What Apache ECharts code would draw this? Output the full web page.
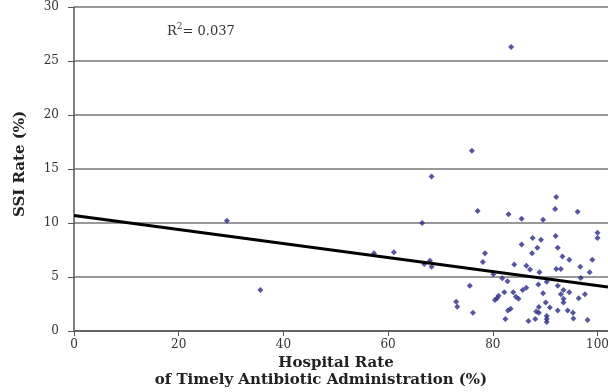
<!DOCTYPE html>
<html><head><meta charset="utf-8">
<script src="https://cdn.jsdelivr.net/npm/echarts@6/dist/echarts.min.js"></script>
<style>html,body{margin:0;padding:0;background:#fff}#c{width:608px;height:392px}</style>
</head><body><div id="c"></div>
<script>
const xTicks = [0, 20, 40, 60, 80, 100];
const yTicks = [0, 5, 10, 15, 20, 25, 30];
const xTitleLines = ['Hospital Rate', 'of Timely Antibiotic Administration (%)'];
const yTitle = 'SSI Rate (%)';
const hospitalRate = [29.2,35.6,57.3,61.1,66.5,66.9,68.0,68.3,68.3,76.0,83.5,
92.1,91.9,77.1,96.2,83.0,85.5,89.6,
100.0,100.0,87.6,89.2,92.0,85.5,88.5,92.4,78.5,87.5,93.3,94.6,99.0,78.1,84.1,86.4,87.1,88.9,92.1,93.0,96.7,98.5,80.1,81.8,96.8,
82.8,90.3,88.7,92.4,75.6,86.4,85.7,93.5,82.2,83.9,89.6,93.0,94.6,97.6,81.1,80.8,80.4,84.4,84.9,93.5,96.4,93.5,90.1,73.0,73.2,88.8,90.9,83.4,82.9,92.4,94.3,88.3,88.8,95.3,76.2,90.3,90.3,90.3,82.4,86.8,88.1,95.4,98.1];
const ssiRate = [10.2,3.8,7.2,7.3,10.0,6.2,6.5,5.95,14.3,16.7,26.3,
12.4,11.3,11.1,11.05,10.8,10.4,10.3,
9.1,8.6,8.6,8.45,8.8,8.0,7.7,7.7,7.2,7.2,6.9,6.6,6.6,6.4,6.15,6.05,5.7,5.45,5.75,5.75,5.95,5.45,5.25,4.88,4.9,
4.6,4.55,4.3,4.2,4.2,4.0,3.8,3.8,3.58,3.58,3.5,3.4,3.58,3.4,3.27,3.03,2.87,3.18,2.98,2.98,3.03,2.64,2.64,2.7,2.25,2.22,2.18,2.07,1.9,1.9,1.9,1.8,1.68,1.68,1.7,1.4,1.12,0.83,1.1,0.93,1.1,1.15,1.02];
const fitIntercept = 10.7;
const fitSlope = -0.065;
const fitX = [0, 102];

const points = hospitalRate.map((x, i) => [x, ssiRate[i]]);
const fitLine = fitX.map(x => [x, fitIntercept + fitSlope * x]);
const serif = '"DejaVu Serif", "Liberation Serif", serif';
const titleStyle = { fontFamily: serif, fontWeight: 'bold', fontSize: 15, fill: '#222', align: 'center', verticalAlign: 'middle' };

const chart = echarts.init(document.getElementById('c'));
chart.setOption({
  backgroundColor: '#fff',
  animation: false,
  grid: { left: 74, right: 0, top: 7, bottom: 61, containLabel: false, outerBoundsMode: 'none' },
  xAxis: {
    type: 'value', min: 0, max: 102,
    axisLine: { show: true, lineStyle: { color: '#555', width: 1.5 } },
    axisTick: { show: true, length: 5, lineStyle: { color: '#555' }, customValues: xTicks },
    axisLabel: { fontFamily: serif, fontSize: 12, color: '#333', margin: 8, customValues: xTicks },
    splitLine: { show: false }
  },
  yAxis: {
    type: 'value', min: 0, max: 30, interval: 5,
    axisLine: { show: true, lineStyle: { color: '#555', width: 1.5 } },
    axisTick: { show: true, length: 6, lineStyle: { color: '#555' } },
    axisLabel: { fontFamily: serif, fontSize: 12, color: '#333', margin: 15, customValues: yTicks },
    splitLine: { show: true, lineStyle: { color: '#777', width: 1.5 } }
  },
  graphic: [{
    type: 'text', x: 336, y: 363,
    style: Object.assign({ text: xTitleLines[0] }, titleStyle)
  }, {
    type: 'text', x: 321, y: 380,
    style: Object.assign({ text: xTitleLines[1] }, titleStyle)
  }, {
    type: 'text', x: 20, y: 164, rotation: Math.PI / 2,
    style: Object.assign({ text: yTitle }, titleStyle)
  }, {
    type: 'text', left: 167, top: 22,
    style: {
      text: '{r|R}{s|2}{r|= 0.037}',
      rich: {
        r: { fontFamily: serif, fontSize: 13, fill: '#333', padding: [3, 0, 0, 0] },
        s: { fontFamily: serif, fontSize: 9, fill: '#333', verticalAlign: 'top' }
      }
    }
  }],
  series: [{
    type: 'scatter', data: points, symbol: 'diamond', symbolSize: 6,
    itemStyle: { color: '#2a2a88' }, z: 3
  }, {
    type: 'line', data: fitLine, symbol: 'none', silent: true,
    lineStyle: { color: '#000', width: 3 }, z: 4
  }]
});
</script></body></html>
